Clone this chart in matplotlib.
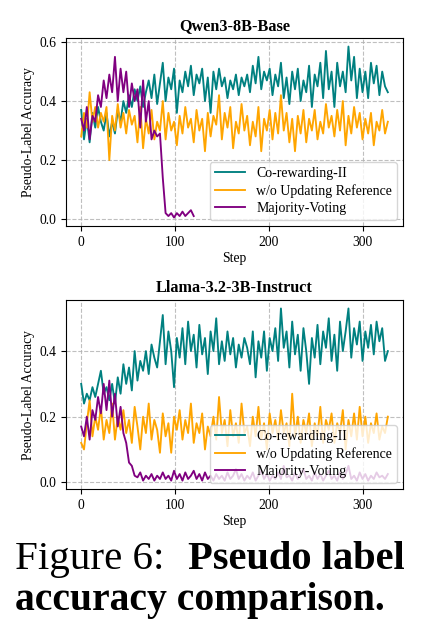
import numpy as np
import matplotlib
matplotlib.use("Agg")
import matplotlib.pyplot as plt

plt.rcParams['font.family'] = ['Liberation Serif', 'DejaVu Serif']

# ---------------- data ----------------
steps = list(range(0, 330, 3))            # 0 .. 327
steps_mv_top = list(range(0, 121, 3))     # 0 .. 120

titles = ["Qwen3-8B-Base", "Llama-3.2-3B-Instruct"]
labels = ["Co-rewarding-II", "w/o Updating Reference", "Majority-Voting"]
yticks_top = [0.0, 0.2, 0.4, 0.6]
yticks_bot = [0.0, 0.2, 0.4]
xticks = [0, 100, 200, 300]

qwen_corew = [
    0.37, 0.27, 0.34, 0.26, 0.36, 0.31, 0.38, 0.33, 0.30, 0.36,
    0.28, 0.33, 0.29, 0.37, 0.33, 0.40, 0.36, 0.42, 0.38, 0.44,
    0.40, 0.45, 0.38, 0.43, 0.47, 0.41, 0.49, 0.39, 0.46, 0.53,
    0.40, 0.48, 0.44, 0.51, 0.36, 0.47, 0.43, 0.50, 0.45, 0.52,
    0.42, 0.49, 0.46, 0.51, 0.40, 0.48, 0.36, 0.50, 0.44, 0.51,
    0.45, 0.48, 0.41, 0.47, 0.44, 0.49, 0.42, 0.48, 0.45, 0.49,
    0.43, 0.52, 0.46, 0.55, 0.44, 0.50, 0.47, 0.51, 0.42, 0.49,
    0.45, 0.53, 0.41, 0.48, 0.39, 0.50, 0.44, 0.51, 0.40, 0.47,
    0.43, 0.52, 0.38, 0.49, 0.45, 0.53, 0.41, 0.57, 0.44, 0.50,
    0.38, 0.53, 0.45, 0.50, 0.43, 0.585, 0.47, 0.55, 0.41, 0.51,
    0.43, 0.50, 0.41, 0.53, 0.46, 0.52, 0.42, 0.50, 0.45, 0.43,
]
qwen_noupd = [
    0.28, 0.36, 0.31, 0.43, 0.33, 0.38, 0.31, 0.36, 0.33, 0.38,
    0.20, 0.35, 0.30, 0.39, 0.31, 0.36, 0.29, 0.37, 0.32, 0.35,
    0.26, 0.38, 0.24, 0.34, 0.29, 0.37, 0.27, 0.33, 0.30, 0.40,
    0.27, 0.36, 0.30, 0.33, 0.25, 0.35, 0.29, 0.38, 0.31, 0.34,
    0.26, 0.37, 0.30, 0.34, 0.23, 0.36, 0.28, 0.35, 0.32, 0.42,
    0.27, 0.36, 0.31, 0.38, 0.24, 0.33, 0.29, 0.39, 0.30, 0.35,
    0.25, 0.33, 0.28, 0.38, 0.23, 0.34, 0.30, 0.37, 0.27, 0.36,
    0.29, 0.42, 0.30, 0.36, 0.26, 0.34, 0.23, 0.35, 0.29, 0.37,
    0.26, 0.34, 0.30, 0.37, 0.27, 0.33, 0.29, 0.39, 0.31, 0.35,
    0.28, 0.37, 0.30, 0.40, 0.25, 0.35, 0.29, 0.38, 0.31, 0.36,
    0.27, 0.34, 0.29, 0.36, 0.25, 0.33, 0.30, 0.37, 0.29, 0.33,
]
qwen_mv = [
    0.34, 0.30, 0.38, 0.27, 0.35, 0.33, 0.42, 0.38, 0.47, 0.41,
    0.49, 0.43, 0.55, 0.40, 0.51, 0.43, 0.50, 0.38, 0.46, 0.40,
    0.44, 0.31, 0.47, 0.33, 0.40, 0.27, 0.30, 0.28, 0.29, 0.14,
    0.02, 0.01, 0.02, 0.005, 0.02, 0.01, 0.025, 0.01, 0.02, 0.03,
    0.01,
]

llama_corew = [
    0.30, 0.24, 0.27, 0.25, 0.29, 0.26, 0.30, 0.34, 0.27, 0.29,
    0.25, 0.30, 0.24, 0.32, 0.27, 0.36, 0.30, 0.35, 0.28, 0.40,
    0.31, 0.37, 0.34, 0.40, 0.33, 0.42, 0.38, 0.35, 0.43, 0.51,
    0.36, 0.46, 0.40, 0.29, 0.44, 0.38, 0.47, 0.36, 0.49, 0.40,
    0.45, 0.35, 0.48, 0.39, 0.44, 0.33, 0.46, 0.40, 0.50, 0.36,
    0.43, 0.37, 0.46, 0.39, 0.44, 0.35, 0.42, 0.38, 0.44, 0.41,
    0.36, 0.46, 0.32, 0.43, 0.38, 0.46, 0.34, 0.44, 0.40, 0.47,
    0.37, 0.53, 0.41, 0.46, 0.35, 0.49, 0.39, 0.45, 0.34, 0.47,
    0.40, 0.30, 0.44, 0.38, 0.48, 0.36, 0.46, 0.41, 0.50, 0.37,
    0.45, 0.34, 0.49, 0.40, 0.46, 0.53, 0.38, 0.47, 0.42, 0.49,
    0.37, 0.46, 0.41, 0.48, 0.39, 0.49, 0.43, 0.47, 0.37, 0.40,
]
llama_noupd = [
    0.12, 0.10, 0.18, 0.25, 0.14, 0.20, 0.16, 0.23, 0.13, 0.19,
    0.15, 0.24, 0.13, 0.20, 0.16, 0.22, 0.15, 0.19, 0.12, 0.23,
    0.17, 0.10, 0.20, 0.15, 0.24, 0.13, 0.19, 0.16, 0.09, 0.21,
    0.14, 0.18, 0.09, 0.20, 0.16, 0.22, 0.13, 0.19, 0.15, 0.24,
    0.12, 0.18, 0.15, 0.21, 0.10, 0.17, 0.14, 0.20, 0.13, 0.26,
    0.15, 0.19, 0.11, 0.22, 0.14, 0.18, 0.12, 0.24, 0.15, 0.17,
    0.11, 0.20, 0.14, 0.23, 0.13, 0.18, 0.10, 0.21, 0.15, 0.19,
    0.13, 0.22, 0.15, 0.18, 0.11, 0.27, 0.14, 0.20, 0.12, 0.19,
    0.15, 0.21, 0.11, 0.18, 0.14, 0.23, 0.12, 0.19, 0.16, 0.21,
    0.12, 0.18, 0.15, 0.22, 0.10, 0.19, 0.14, 0.21, 0.13, 0.23,
    0.14, 0.20, 0.12, 0.18, 0.15, 0.21, 0.13, 0.17, 0.15, 0.20,
]
llama_mv = [
    0.17, 0.14, 0.20, 0.13, 0.22, 0.19, 0.26, 0.21, 0.30, 0.22,
    0.31, 0.20, 0.27, 0.17, 0.23, 0.15, 0.12, 0.06, 0.05, 0.02,
    0.015, 0.03, 0.005, 0.02, 0.01, 0.025, 0.005, 0.02, 0.01, 0.03,
    0.01, 0.02, 0.005, 0.035, 0.01, 0.025, 0.005, 0.03, 0.01, 0.02,
    0.035, 0.01, 0.025, 0.005, 0.03, 0.01, 0.02, 0.005, 0.025, 0.01,
    0.02, 0.005, 0.03, 0.01, 0.02, 0.04, 0.01, 0.025, 0.005, 0.02,
    0.01, 0.03, 0.005, 0.02, 0.035, 0.01, 0.025, 0.005, 0.02, 0.01,
    0.03, 0.01, 0.05, 0.015, 0.02, 0.005, 0.03, 0.01, 0.025, 0.04,
    0.01, 0.02, 0.005, 0.03, 0.01, 0.025, 0.005, 0.02, 0.035, 0.01,
    0.02, 0.005, 0.03, 0.01, 0.025, 0.05, 0.01, 0.02, 0.005, 0.03,
    0.01, 0.025, 0.005, 0.02, 0.01, 0.03, 0.015, 0.02, 0.01, 0.025,
]

colors = ["teal", "orange", "purple"]

# ---------------- figure ----------------
fig = plt.figure(figsize=(4.45, 6.28), dpi=100)
ax1 = fig.add_axes([0.148, 0.640, 0.758, 0.2995])
ax2 = fig.add_axes([0.148, 0.221, 0.758, 0.3015])

panels = [
    (ax1, [(steps, qwen_corew), (steps, qwen_noupd), (steps_mv_top, qwen_mv)], yticks_top),
    (ax2, [(steps, llama_corew), (steps, llama_noupd), (steps, llama_mv)], yticks_bot),
]

fs = 9.8
for (ax, series, yt), title in zip(panels, titles):
    for (xs, ys), c, lab in zip(series, colors, labels):
        ax.plot(xs, ys, color=c, lw=1.35, label=lab)
    ax.set_xticks(xticks)
    ax.set_yticks(yt)
    ax.set_yticklabels([f"{v:.1f}" for v in yt])
    ax.tick_params(labelsize=fs)
    ax.grid(True, linestyle='--', color='#b0b0b0', alpha=0.8, lw=0.8)
    ax.set_xlabel("Step", fontsize=fs, labelpad=2)
    ax.set_ylabel("Pseudo-Label Accuracy", fontsize=fs, labelpad=3)
    ax.set_title(title, fontsize=11.7, fontweight='bold', pad=6)
    ax.legend(loc='lower right', fontsize=10.0, handlelength=2.2,
              borderpad=0.35, labelspacing=0.3, borderaxespad=0.45)

fig.text(15 / 445, 1 - 569 / 628, "Figure 6:", fontsize=29.5, ha='left',
         va='baseline')
fig.text(188 / 445, 1 - 569 / 628, "Pseudo label", fontsize=29.2,
         fontweight='bold', ha='left', va='baseline')
fig.text(15 / 445, 1 - 610 / 628, "accuracy comparison.", fontsize=28.5,
         fontweight='bold', ha='left', va='baseline')

fig.savefig("out.png", dpi=100)
